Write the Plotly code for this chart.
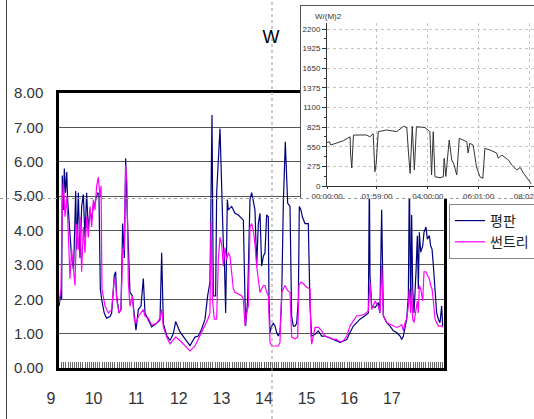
import plotly.graph_objects as go

W, H = 534, 419

# ---------------- main chart data (hours, value) ----------------
pyeongpan_t = [9.19, 9.235, 9.25, 9.266, 9.29, 9.313, 9.34, 9.37, 9.39, 9.446, 9.485, 9.53, 9.58, 9.602, 9.642,
               9.681, 9.72, 9.759, 9.798, 9.837, 9.876, 9.916, 9.955, 9.994, 10.033, 10.095, 10.126, 10.158,
               10.189, 10.25, 10.305, 10.385, 10.424, 10.487, 10.518, 10.541, 10.596, 10.643, 10.682, 10.721,
               10.753, 10.784, 10.815, 10.854, 10.909, 10.956, 10.995, 11.05, 11.113, 11.167, 11.207, 11.285,
               11.363, 11.48, 11.559, 11.598, 11.637, 11.715, 11.794, 11.872, 11.926, 12.028, 12.145, 12.263,
               12.38, 12.458, 12.536, 12.615, 12.677, 12.732, 12.779, 12.81, 12.865, 12.889, 12.967, 13.006,
               13.045, 13.069, 13.1, 13.139, 13.162, 13.241, 13.319, 13.397, 13.475, 13.515, 13.554, 13.569,
               13.616, 13.671, 13.71, 13.749, 13.788, 13.828, 13.867, 13.906, 13.945, 13.984, 14.023, 14.062,
               14.101, 14.117, 14.141, 14.18, 14.219, 14.258, 14.297, 14.336, 14.375, 14.414, 14.454, 14.5,
               14.555, 14.61, 14.649, 14.688, 14.727, 14.767, 14.806, 14.829, 14.868, 14.9, 14.962, 15.04,
               15.08, 15.119, 15.197, 15.275, 15.354, 15.432, 15.549, 15.627, 15.706, 15.784, 15.862, 15.941,
               16.019, 16.097, 16.175, 16.253, 16.371, 16.449, 16.473, 16.488, 16.527, 16.606, 16.684, 16.72,
               16.762, 16.801, 16.879, 16.958, 17.036, 17.114, 17.193, 17.232, 17.271, 17.31, 17.349, 17.388,
               17.412, 17.443, 17.466, 17.49, 17.521, 17.568, 17.599, 17.623, 17.646, 17.678, 17.725, 17.756,
               17.803, 17.834, 17.881, 17.912, 17.944, 17.975, 18.014, 18.053, 18.092, 18.131, 18.17, 18.194]
pyeongpan_v = [1.8, 2.2, 2.0, 5.6, 4.6, 5.8, 5.1, 5.7, 4.9, 3.8, 3.2, 2.85, 5.15, 3.45, 5.1,
               3.2, 4.7, 5.05, 3.8, 5.1, 4.0, 4.6, 4.3, 4.75, 4.8, 5.1, 5.05, 2.3,
               2.0, 1.6, 1.45, 1.5, 1.6, 2.7, 2.8, 2.1, 1.6, 1.7, 4.2, 3.2,
               6.1, 4.7, 3.45, 2.2, 2.1, 1.5, 1.1, 1.7, 1.8, 2.6, 1.6, 1.4,
               1.2, 1.3, 1.4, 3.35, 1.3, 0.95, 0.8, 1.0, 1.35, 1.05, 0.85, 0.65,
               0.9, 0.93, 1.13, 1.42, 2.1, 2.5, 7.36, 2.1, 2.1, 5.1, 6.97, 4.9,
               3.6, 3.2, 1.6, 4.9, 4.6, 4.7, 4.5, 4.45, 4.36, 4.3, 2.0, 1.22,
               2.0, 4.9, 5.1, 4.8, 4.6, 2.96, 4.2, 4.5, 2.96, 3.25, 3.35, 4.45,
               4.4, 2.0, 1.03, 1.22, 1.3, 1.22, 1.03, 0.93, 1.03, 2.0, 4.8, 6.58,
               4.8, 4.7, 1.5, 1.22, 1.22, 1.3, 2.0, 4.7, 4.6, 4.4, 4.2, 4.2,
               1.8, 0.93, 0.98, 1.08, 0.93, 0.93, 0.88, 0.83, 0.79, 0.74, 0.79, 0.83,
               1.03, 1.22, 1.32, 1.42, 1.52, 1.6, 5.6, 2.7, 1.8, 1.76, 1.9, 1.6,
               4.6, 1.52, 1.32, 1.22, 1.08, 1.03, 0.93, 0.83, 0.93, 1.22, 1.42, 2.1,
               5.6, 1.8, 4.45, 2.3, 1.6, 2.8, 3.85, 2.3, 3.95, 3.37, 3.55, 3.95,
               4.1, 3.75, 3.85, 3.55, 3.46, 2.98, 2.1, 1.6, 1.42, 1.32, 1.8, 1.22]

suntree_t = [9.19, 9.235, 9.266, 9.29, 9.329, 9.368, 9.407, 9.446, 9.485, 9.524, 9.563, 9.602, 9.642, 9.681,
             9.72, 9.759, 9.798, 9.837, 9.876, 9.916, 9.955, 9.994, 10.033, 10.072, 10.111, 10.15, 10.174,
             10.197, 10.228, 10.268, 10.346, 10.424, 10.487, 10.518, 10.541, 10.596, 10.643, 10.682, 10.721,
             10.753, 10.784, 10.815, 10.854, 10.909, 10.956, 10.995, 11.05, 11.113, 11.167, 11.207, 11.285,
             11.363, 11.48, 11.559, 11.598, 11.637, 11.715, 11.794, 11.872, 11.926, 12.028, 12.145, 12.263,
             12.38, 12.458, 12.536, 12.615, 12.677, 12.732, 12.756, 12.79, 12.834, 12.889, 12.928, 12.967,
             13.006, 13.045, 13.084, 13.123, 13.162, 13.202, 13.241, 13.28, 13.319, 13.397, 13.475, 13.515,
             13.554, 13.593, 13.632, 13.671, 13.71, 13.749, 13.788, 13.828, 13.867, 13.906, 13.945, 13.984,
             14.023, 14.062, 14.101, 14.141, 14.18, 14.258, 14.336, 14.375, 14.414, 14.454, 14.493, 14.555,
             14.61, 14.649, 14.727, 14.79, 14.821, 14.868, 14.923, 15.001, 15.08, 15.103, 15.119, 15.197,
             15.275, 15.354, 15.432, 15.549, 15.627, 15.706, 15.784, 15.862, 15.941, 16.019, 16.097, 16.175,
             16.253, 16.371, 16.449, 16.488, 16.527, 16.606, 16.684, 16.723, 16.762, 16.801, 16.879, 16.958,
             17.036, 17.114, 17.193, 17.232, 17.271, 17.31, 17.349, 17.388, 17.412, 17.443, 17.466, 17.49,
             17.521, 17.568, 17.599, 17.623, 17.646, 17.678, 17.725, 17.756, 17.803, 17.834, 17.881, 17.912,
             17.944, 17.975, 18.014, 18.053, 18.092, 18.131, 18.17, 18.194]
suntree_v = [1.9, 2.3, 4.9, 5.4, 4.4, 5.0, 3.9, 2.6, 3.45, 2.9, 2.4, 4.2, 3.45, 4.4,
             2.8, 4.1, 3.35, 4.4, 3.8, 4.7, 4.1, 4.9, 4.6, 5.3, 5.55, 5.0, 5.3,
             2.3, 2.1, 1.8, 1.6, 1.7, 2.6, 2.5, 2.0, 1.6, 1.7, 3.45, 3.45,
             5.9, 5.4, 2.5, 1.8, 2.1, 1.4, 1.3, 1.5, 1.6, 1.7, 1.5, 1.45,
             1.25, 1.3, 1.45, 1.7, 1.2, 0.9, 0.7, 0.8, 0.9, 0.8, 0.65, 0.5,
             0.64, 0.84, 1.03, 1.22, 1.4, 1.6, 4.27, 2.0, 1.42, 1.42, 3.15, 3.8,
             3.6, 2.96, 3.5, 3.15, 3.35, 3.25, 2.7, 2.3, 2.2, 2.15, 2.1, 2.0,
             1.22, 1.6, 1.8, 4.1, 4.2, 4.0, 3.6, 2.96, 2.5, 2.2, 2.3, 2.4,
             2.4, 2.2, 2.1, 0.74, 0.64, 0.64, 0.64, 0.74, 2.2, 2.3, 2.4, 2.25,
             2.2, 0.9, 0.85, 0.9, 2.4, 2.5, 2.45, 2.35, 2.3, 0.93, 0.69, 1.18,
             1.18, 1.08, 0.93, 0.88, 0.83, 0.83, 0.76, 0.79, 0.93, 1.22, 1.37, 1.52,
             1.52, 1.57, 1.66, 2.5, 1.7, 1.95, 1.8, 1.6, 2.98, 1.52, 1.32, 1.27,
             1.22, 1.18, 1.22, 1.27, 1.08, 1.32, 1.42, 1.8, 2.3, 1.6, 2.4, 1.42,
             1.32, 1.8, 1.95, 1.6, 2.4, 2.3, 1.95, 2.8, 2.8, 2.7, 2.6, 2.4,
             2.3, 1.95, 1.42, 1.32, 1.22, 1.22, 1.22, 1.18]

hour_ticks = [9, 10, 11, 12, 13, 14, 15, 16, 17]
y_ticks = [0, 1, 2, 3, 4, 5, 6, 7, 8]

# ---------------- inset data (minutes, W/m2) ----------------
inset_t = [0, 6, 9, 23, 39, 55, 56, 59, 63, 94, 102, 110, 114, 117, 122, 142, 166, 182, 190, 194, 198,
           203, 208, 213, 233, 245, 249, 253, 257, 269, 277, 279, 283, 291, 297, 302, 309, 315, 325, 333,
           336, 340, 348, 356, 364, 371, 376, 388, 404, 408, 416, 432, 440, 452, 460, 468, 483, 486]
inset_v = [610, 620, 574, 598, 635, 690, 462, 252, 714, 715, 690, 730, 200, 308, 761, 785, 761, 836, 822,
           462, 178, 836, 224, 831, 820, 761, 154, 761, 130, 116, 130, 388, 135, 645, 364, 306, 154, 668,
           645, 620, 462, 598, 574, 266, 130, 107, 528, 505, 462, 388, 435, 364, 294, 224, 261, 178, 60, 30]
inset_tickvals = [0, 119, 240, 361, 482]
inset_ticktext = ["00:00:00", "01:59:00", "04:00:00", "06:01:00", "08:02:00"]
inset_yticks = [0, 275, 550, 825, 1100, 1375, 1650, 1925, 2200]


def px(x):
    return x / W


def py(y):
    return 1 - y / H


FONT = "Liberation Sans, Arial, sans-serif"

fig = go.Figure()
fig.add_trace(go.Scatter(x=pyeongpan_t, y=pyeongpan_v, mode="lines", name="평판",
                         line=dict(color="#000080", width=1.2), xaxis="x", yaxis="y"))
fig.add_trace(go.Scatter(x=suntree_t, y=suntree_v, mode="lines", name="썬트리",
                         line=dict(color="#ff00ff", width=1.2), xaxis="x", yaxis="y"))
fig.add_trace(go.Scatter(x=[], y=[], showlegend=False, hoverinfo="skip", xaxis="x2", yaxis="y2"))
fig.add_trace(go.Scatter(x=[], y=[], showlegend=False, hoverinfo="skip", xaxis="x3", yaxis="y3"))
fig.add_trace(go.Scatter(x=inset_t, y=inset_v, mode="lines", showlegend=False,
                         line=dict(color="#333333", width=1), xaxis="x4", yaxis="y4"))

fig.update_layout(
    width=W, height=H, autosize=False,
    margin=dict(l=0, r=0, t=0, b=0, pad=0, autoexpand=False),
    paper_bgcolor="white", plot_bgcolor="white",
    font=dict(family=FONT, color="#333333"),
    title=dict(text="W", x=px(271), y=py(37), xref="paper", yref="paper",
               xanchor="center", yanchor="middle", automargin=False,
               font=dict(size=18, color="black", family=FONT)),
    showlegend=True,
    legend=dict(x=px(449), y=py(204), xref="paper", yref="paper",
                xanchor="left", yanchor="top", bgcolor="white",
                bordercolor="#888888", borderwidth=1,
                font=dict(size=14, family="Noto Sans CJK KR", color="#222222")),
    xaxis=dict(domain=[px(59), px(444)], range=[9.188, 18.225], anchor="y", automargin=False,
               showline=True, linewidth=2.5, linecolor="black", mirror=True,
               showgrid=False, zeroline=False, showticklabels=False,
               ticks="inside", ticklen=6, tickcolor="#555555", tick0=9, dtick=1,
               minor=dict(ticks="inside", ticklen=6, tickcolor="#666666", tick0=9, dtick=0.05)),
    yaxis=dict(domain=[py(368), py(93)], range=[0, 8], anchor="x", automargin=False,
               tickvals=y_ticks, tickformat=".2f",
               showline=True, linewidth=2.5, linecolor="black", mirror=True,
               showgrid=True, gridcolor="#555555", gridwidth=1, zeroline=False,
               ticks="", ticklabelstandoff=10, tickfont=dict(size=15, color="#333333")),
    xaxis2=dict(domain=[px(51), px(444)], range=[9, 18.225], anchor="y2", automargin=False,
                tickvals=hour_ticks, ticktext=[str(h) for h in hour_ticks],
                showline=False, showgrid=False, zeroline=False, ticks="",
                tickfont=dict(size=16, color="#333333")),
    yaxis2=dict(domain=[py(387), py(373)], range=[0, 1], anchor="x2", visible=False, automargin=False),
    xaxis3=dict(domain=[px(301), 1], range=[0, 1], anchor="y3", side="top", automargin=False,
                showline=True, linecolor="#555555", linewidth=1, showgrid=False,
                zeroline=False, showticklabels=False, ticks=""),
    yaxis3=dict(domain=[py(199), py(6)], range=[0, 1], anchor="x3", automargin=False,
                showline=True, linecolor="#555555", linewidth=1, showgrid=False,
                zeroline=False, showticklabels=False, ticks=""),
    xaxis4=dict(domain=[px(327), 1], range=[0, 492.9], anchor="y4", automargin=False,
                tickvals=inset_tickvals, ticktext=inset_ticktext, ticklabeloverflow="allow",
                showline=True, linecolor="#333333", linewidth=1,
                showgrid=True, gridcolor="#c4c4c4", griddash="dot", gridwidth=1, zeroline=False,
                ticks="outside", ticklen=2, tickcolor="#333333",
                tickfont=dict(size=8, color="#333333")),
    yaxis4=dict(domain=[py(186), py(23.3)], range=[0, 2280], anchor="x4", automargin=False,
                tickvals=inset_yticks,
                showline=True, linecolor="#333333", linewidth=1,
                showgrid=True, gridcolor="#c4c4c4", griddash="dot", gridwidth=1, zeroline=False,
                ticks="outside", ticklen=4, tickcolor="#333333",
                minor=dict(ticks="outside", ticklen=2, tickcolor="#333333", dtick=137.5, tick0=0),
                tickfont=dict(size=8, color="#333333")),
    annotations=[dict(text="W/(M)2", x=px(313), y=py(17), xref="paper", yref="paper",
                      xanchor="left", yanchor="middle", showarrow=False,
                      font=dict(size=8, color="#333333"))],
    shapes=[
        dict(type="line", xref="paper", yref="paper", x0=px(6.5), x1=px(6.5), y0=0, y1=1,
             line=dict(color="#444444", width=1), layer="above"),
        dict(type="line", xref="paper", yref="paper", x0=px(272), x1=px(272), y0=0, y1=1,
             line=dict(color="#999999", width=1, dash="3px,3px"), layer="above"),
        dict(type="line", xref="paper", yref="paper", x0=0, x1=1, y0=py(198.5), y1=py(198.5),
             line=dict(color="#999999", width=1, dash="3px,3px"), layer="above"),
    ],
)

fig.write_html(
    "out.html",
    config={"displayModeBar": False},
    post_script="document.body.style.margin='0';document.body.style.padding='0';"
                "document.documentElement.style.overflow='hidden';",
)
